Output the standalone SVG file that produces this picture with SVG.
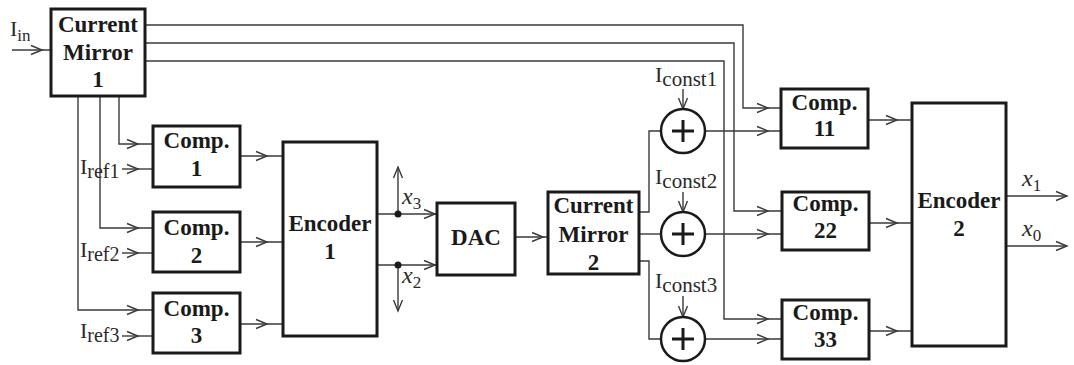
<svg xmlns="http://www.w3.org/2000/svg" width="1074" height="365" viewBox="0 0 1074 365">
<style>
.box{fill:#fff;stroke:#1a1a1a;stroke-width:3}
.w{fill:none;stroke:#3a3a3a;stroke-width:1.4}
.ah{fill:none;stroke:#3a3a3a;stroke-width:1.4}
.lb{font-family:"Liberation Serif",serif;font-weight:bold;font-size:23px;fill:#1a1a1a;text-anchor:middle}
.t{font-family:"Liberation Serif",serif;font-size:22px;fill:#2a2a2a}
.xi{font-family:"Liberation Serif",serif;font-style:italic;font-size:24px;fill:#2a2a2a}
.sum{fill:#fff;stroke:#1a1a1a;stroke-width:2.5}
.plus{stroke:#1a1a1a;stroke-width:3}
</style>
<defs>
<path id="ah" class="ah" d="M-11,-4.5 L0,0 L-11,4.5"/>
</defs>
<g id="connectors">
<path class="w" d="M12,50 H51"/>
<path class="w" d="M145,25 H743 V108 H781"/>
<path class="w" d="M145,43 H734 V211 H782"/>
<path class="w" d="M145,61 H724 V319 H782"/>
<path class="w" d="M119,96 V144 H153"/>
<path class="w" d="M100,96 V228 H153"/>
<path class="w" d="M78,96 V310 H153"/>
<path class="w" d="M122,169 H153"/>
<path class="w" d="M122,253 H153"/>
<path class="w" d="M122,336 H153"/>
<path class="w" d="M240,156 H283"/>
<path class="w" d="M240,242 H283"/>
<path class="w" d="M240,324 H283"/>
<path class="w" d="M377,214 H437"/>
<path class="w" d="M377,265 H437"/>
<path class="w" d="M398,214 V167"/>
<path class="w" d="M398,265 V311"/>
<path class="w" d="M515,237 H548"/>
<path class="w" d="M639,212 H649 V131 H661"/>
<path class="w" d="M639,234 H661"/>
<path class="w" d="M639,261 H649 V339 H661"/>
<path class="w" d="M705,131 H781"/>
<path class="w" d="M705,234 H782"/>
<path class="w" d="M705,339 H782"/>
<path class="w" d="M683,89 V109"/>
<path class="w" d="M683,192 V212"/>
<path class="w" d="M683,296 V317"/>
<path class="w" d="M868,120 H912"/>
<path class="w" d="M869,223 H912"/>
<path class="w" d="M869,331 H912"/>
<path class="w" d="M1006,196 H1067"/>
<path class="w" d="M1006,246 H1067"/>
<use href="#ah" transform="translate(42,50)"/>
<use href="#ah" transform="translate(768,108)"/>
<use href="#ah" transform="translate(768,211)"/>
<use href="#ah" transform="translate(768,319)"/>
<use href="#ah" transform="translate(768,131)"/>
<use href="#ah" transform="translate(768,234)"/>
<use href="#ah" transform="translate(768,339)"/>
<use href="#ah" transform="translate(138,144)"/>
<use href="#ah" transform="translate(138,228)"/>
<use href="#ah" transform="translate(138,310)"/>
<use href="#ah" transform="translate(138,169)"/>
<use href="#ah" transform="translate(138,253)"/>
<use href="#ah" transform="translate(138,336)"/>
<use href="#ah" transform="translate(267,156)"/>
<use href="#ah" transform="translate(267,242)"/>
<use href="#ah" transform="translate(267,324)"/>
<use href="#ah" transform="translate(435,214)"/>
<use href="#ah" transform="translate(435,265)"/>
<use href="#ah" transform="translate(398,167) rotate(-90)"/>
<use href="#ah" transform="translate(398,311) rotate(90)"/>
<use href="#ah" transform="translate(543,237)"/>
<use href="#ah" transform="translate(683,109) rotate(90)"/>
<use href="#ah" transform="translate(683,212) rotate(90)"/>
<use href="#ah" transform="translate(683,317) rotate(90)"/>
<use href="#ah" transform="translate(897,120)"/>
<use href="#ah" transform="translate(897,223)"/>
<use href="#ah" transform="translate(897,331)"/>
<use href="#ah" transform="translate(1067,196)"/>
<use href="#ah" transform="translate(1067,246)"/>
<circle cx="398" cy="214" r="3.5" fill="#1a1a1a"/>
<circle cx="398" cy="265" r="3.5" fill="#1a1a1a"/>
</g>
<g id="labels">
<text class="t" x="10" y="36">I<tspan font-size="17" dy="5">in</tspan></text>
<text class="t" x="80" y="174">I<tspan font-size="20" dy="4">ref1</tspan></text>
<text class="t" x="80" y="257">I<tspan font-size="20" dy="4">ref2</tspan></text>
<text class="t" x="80" y="338">I<tspan font-size="20" dy="4">ref3</tspan></text>
<text class="t" x="655" y="82">I<tspan font-size="21" dy="4">const1</tspan></text>
<text class="t" x="655" y="184">I<tspan font-size="21" dy="4">const2</tspan></text>
<text class="t" x="655" y="288">I<tspan font-size="21" dy="4">const3</tspan></text>
<text class="xi" x="402" y="204">x<tspan font-style="normal" font-size="17" dy="5">3</tspan></text>
<text class="xi" x="402" y="283">x<tspan font-style="normal" font-size="17" dy="5">2</tspan></text>
<text class="xi" x="1022" y="186">x<tspan font-style="normal" font-size="17" dy="5">1</tspan></text>
<text class="xi" x="1022" y="236">x<tspan font-style="normal" font-size="17" dy="5">0</tspan></text>
</g>
<g id="cm1"><rect class="box" x="51" y="9" width="94" height="87"/><text class="lb" x="98" y="32">Current</text><text class="lb" x="98" y="60">Mirror</text><text class="lb" x="98" y="87">1</text></g>
<g id="comp1"><rect class="box" x="153" y="126" width="87" height="61"/><text class="lb" x="196.5" y="148">Comp.</text><text class="lb" x="196.5" y="176">1</text></g>
<g id="comp2"><rect class="box" x="153" y="212" width="87" height="60"/><text class="lb" x="196.5" y="235">Comp.</text><text class="lb" x="196.5" y="263">2</text></g>
<g id="comp3"><rect class="box" x="153" y="293" width="87" height="60"/><text class="lb" x="196.5" y="316">Comp.</text><text class="lb" x="196.5" y="343">3</text></g>
<g id="enc1"><rect class="box" x="283" y="142" width="94" height="194"/><text class="lb" x="330" y="231">Encoder</text><text class="lb" x="330" y="259">1</text></g>
<g id="dac"><rect class="box" x="437" y="203" width="78" height="72"/><text class="lb" x="476" y="245">DAC</text></g>
<g id="cm2"><rect class="box" x="548" y="192" width="91" height="82"/><text class="lb" x="593.5" y="213">Current</text><text class="lb" x="593.5" y="242">Mirror</text><text class="lb" x="593.5" y="270">2</text></g>
<g id="sum1"><circle class="sum" cx="683" cy="131" r="22"/><path class="plus" d="M672,131 H694 M683,120 V142"/></g>
<g id="sum2"><circle class="sum" cx="683" cy="234" r="22"/><path class="plus" d="M672,234 H694 M683,223 V245"/></g>
<g id="sum3"><circle class="sum" cx="683" cy="339" r="22"/><path class="plus" d="M672,339 H694 M683,328 V350"/></g>
<g id="comp11"><rect class="box" x="781" y="89" width="87" height="59"/><text class="lb" x="824.5" y="110">Comp.</text><text class="lb" x="824.5" y="136">11</text></g>
<g id="comp22"><rect class="box" x="782" y="192" width="87" height="58"/><text class="lb" x="825.5" y="211">Comp.</text><text class="lb" x="825.5" y="238">22</text></g>
<g id="comp33"><rect class="box" x="782" y="300" width="87" height="59"/><text class="lb" x="825.5" y="320">Comp.</text><text class="lb" x="825.5" y="347">33</text></g>
<g id="enc2"><rect class="box" x="912" y="103" width="94" height="243"/><text class="lb" x="959" y="208">Encoder</text><text class="lb" x="959" y="236">2</text></g>
</svg>
